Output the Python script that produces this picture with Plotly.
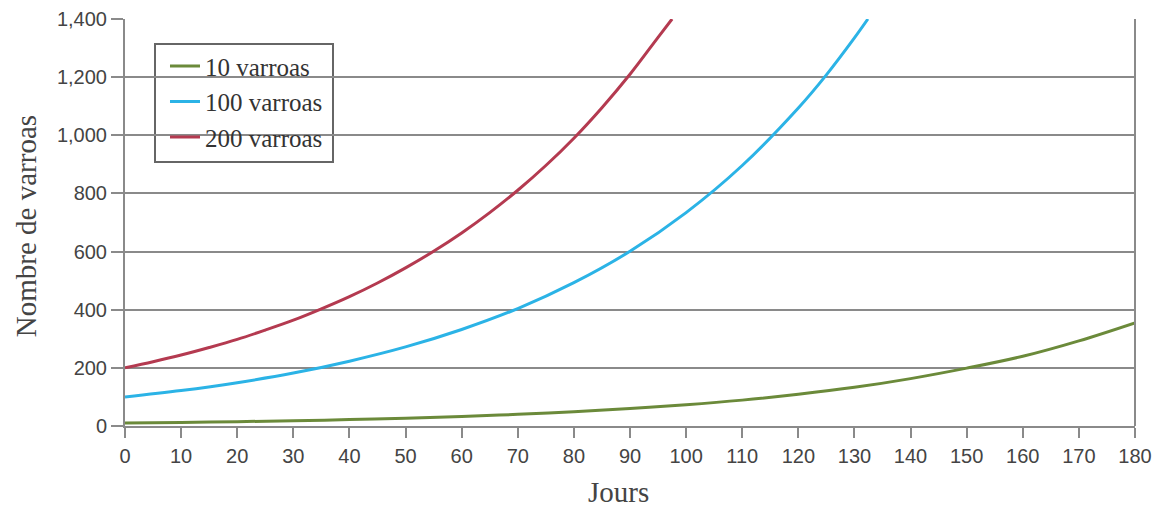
import plotly.graph_objects as go

days = [0, 10, 20, 30, 40, 50, 60, 70, 80, 90, 100, 110, 120, 130, 140, 150, 160, 170, 180]
v10 = [10, 12, 15, 18, 22, 27, 33, 40, 49, 60, 73, 89, 109, 133, 163, 199, 240, 293, 355]

days100 = [0, 10, 20, 30, 40, 50, 60, 70, 80, 90, 100, 110, 120, 125, 130, 132.4]
v100 = [100, 122, 149, 182, 223, 272, 332, 404, 493, 601, 734, 896, 1094, 1208, 1335, 1400]

days200 = [0, 5, 10, 15, 20, 25, 30, 35, 40, 45, 50, 55, 60, 65, 70, 75, 80, 85, 90, 95, 97.5]
v200 = [200, 221, 244, 270, 298, 330, 364, 403, 445, 492, 544, 601, 664, 734, 811, 896,
        990, 1095, 1210, 1337, 1400]

names = ["10 varroas", "100 varroas", "200 varroas"]
colors = ["#6b8a3a", "#2bb3e6", "#b43a50"]
x_title = "Jours"
y_title = "Nombre de varroas"

fig = go.Figure()
for x, y, n, c in zip([days, days100, days200], [v10, v100, v200], names, colors):
    fig.add_trace(go.Scatter(x=x, y=y, name=n, mode="lines",
                             line=dict(color=c, width=3, shape="spline", smoothing=1)))

grid = "#8a8a8a"
tickfont = dict(family="Liberation Sans", size=20, color="#444")
titlefont = dict(family="Liberation Serif", size=29, color="#444")
fig.update_layout(
    width=1144, height=499,
    margin=dict(l=117, r=17, t=11, b=81),
    paper_bgcolor="white", plot_bgcolor="white",
    legend=dict(x=0.0396, y=0.9405, xanchor="left", yanchor="top",
                borderwidth=0, bgcolor="rgba(0,0,0,0)",
                font=dict(family="Liberation Serif", size=25, color="#333"),
                tracegroupgap=0, itemwidth=30),
    xaxis=dict(range=[0, 180], tickvals=list(range(0, 181, 10)),
               showgrid=False, ticks="outside", ticklen=10, tickwidth=2, tickcolor=grid,
               showline=True, linecolor=grid, linewidth=2, mirror=False,
               tickfont=tickfont, ticklabelstandoff=1, automargin=False,
               zeroline=False),
    yaxis=dict(range=[0, 1400], tickvals=list(range(0, 1401, 200)), tickformat=",",
               showgrid=True, gridcolor=grid, gridwidth=2,
               ticks="outside", ticklen=12, tickwidth=2, tickcolor=grid,
               showline=True, linecolor=grid, linewidth=2, automargin=False,
               tickfont=tickfont, zeroline=False),
)
fig.add_annotation(text=x_title, xref="paper", yref="paper", x=0.489, y=-0.162,
                   xanchor="center", yanchor="middle", showarrow=False, font=titlefont)
fig.add_annotation(text=y_title, xref="paper", yref="paper", x=-0.098, y=0.491,
                   xanchor="center", yanchor="middle", showarrow=False, textangle=-90,
                   font=titlefont)
fig.add_shape(type="line", xref="paper", yref="paper", x0=1, x1=1, y0=0, y1=1,
              line=dict(color=grid, width=2))
# legend frame
fig.add_shape(type="rect", xref="paper", yref="paper",
              x0=30 / 1010, x1=208 / 1010, y0=(426 - 162) / 407, y1=(426 - 44) / 407,
              line=dict(color="#666", width=2), fillcolor="white", layer="between")
fig.write_html("out.html")
